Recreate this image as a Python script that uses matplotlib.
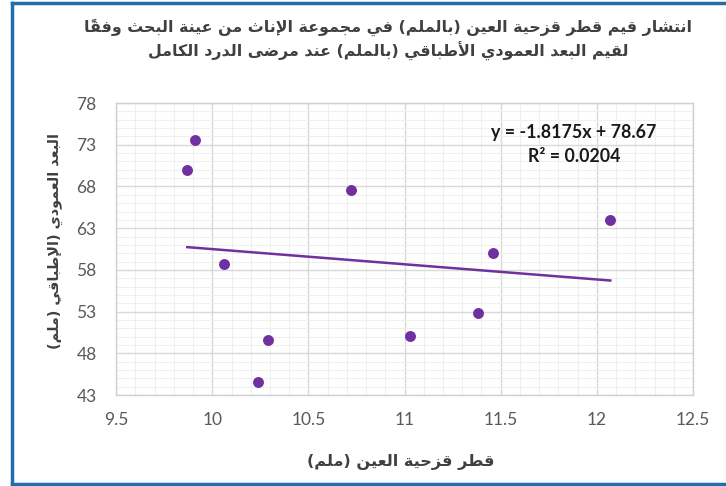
import matplotlib
matplotlib.use("Agg")
import matplotlib.pyplot as plt
from matplotlib.lines import Line2D
from matplotlib.ticker import MultipleLocator
import numpy as np

# ---------------- data ----------------
iris_diameter = [9.91, 9.87, 10.72, 10.06, 10.29, 10.24, 11.03, 11.38, 11.46, 12.07]
vertical_dim = [73.6, 70.0, 67.6, 58.7, 49.6, 44.6, 50.1, 52.8, 60.0, 64.0]
trend_slope = -1.8175
trend_intercept = 78.67
r_squared = 0.0204
x_ticks = [9.5, 10, 10.5, 11, 11.5, 12, 12.5]
x_tick_labels = ["9.5", "10", "10.5", "11", "11.5", "12", "12.5"]
y_ticks = [43, 48, 53, 58, 63, 68, 73, 78]

title_lines = ["انتشار قيم قطر قزحية العين (بالملم) في مجموعة الإناث من عينة البحث وفقاً",
               "لقيم البعد العمودي الأطباقي (بالملم) عند مرضى الدرد الكامل"]
x_title = "قطر قزحية العين (ملم)"
y_title = "البعد العمودي (الإطباقي (ملم)"

# ---------------- minimal Arabic shaping (presentation forms + RTL) ----------------
FOUR = {'ب': 0xFE8F, 'ت': 0xFE95, 'ث': 0xFE99, 'ج': 0xFE9D, 'ح': 0xFEA1, 'خ': 0xFEA5,
        'س': 0xFEB1, 'ش': 0xFEB5, 'ص': 0xFEB9, 'ض': 0xFEBD, 'ط': 0xFEC1, 'ظ': 0xFEC5,
        'ع': 0xFEC9, 'غ': 0xFECD, 'ف': 0xFED1, 'ق': 0xFED5, 'ك': 0xFED9, 'ل': 0xFEDD,
        'م': 0xFEE1, 'ن': 0xFEE5, 'ه': 0xFEE9, 'ي': 0xFEF1, 'ئ': 0xFE89}
TWO = {'ا': 0xFE8D, 'أ': 0xFE83, 'إ': 0xFE87, 'آ': 0xFE81, 'ة': 0xFE93, 'د': 0xFEA9,
       'ذ': 0xFEAB, 'ر': 0xFEAD, 'ز': 0xFEAF, 'و': 0xFEED, 'ى': 0xFEEF, 'ؤ': 0xFE85}
LAMALEF = {'آ': 0xFEF5, 'أ': 0xFEF7, 'إ': 0xFEF9, 'ا': 0xFEFB}
MARKS = set('\u064B\u064C\u064D\u064E\u064F\u0650\u0651\u0652')
MIRROR = {'(': ')', ')': '('}


def shape(text):
    items = []  # [kind, char, marks]
    i = 0
    while i < len(text):
        c = text[i]
        if c in MARKS and items:
            items[-1][2] += c
            i += 1
            continue
        if c == 'ل' and i + 1 < len(text) and text[i + 1] in LAMALEF:
            items.append(['LA', text[i + 1], ''])
            i += 2
            continue
        if c in FOUR:
            items.append(['D', c, ''])
        elif c in TWO:
            items.append(['R', c, ''])
        else:
            items.append(['N', c, ''])
        i += 1
    out = []
    for k, (kind, c, m) in enumerate(items):
        prev_joins = k > 0 and items[k - 1][0] == 'D'
        if kind == 'N':
            out.append(MIRROR.get(c, c) + m)
            continue
        next_arabic = k + 1 < len(items) and items[k + 1][0] != 'N'
        if kind == 'LA':
            g = chr(LAMALEF[c] + (1 if prev_joins else 0))
        elif kind == 'R':
            g = chr(TWO[c] + (1 if prev_joins else 0))
        else:
            base = FOUR[c]
            if prev_joins and next_arabic:
                g = chr(base + 3)
            elif prev_joins:
                g = chr(base + 1)
            elif next_arabic:
                g = chr(base + 2)
            else:
                g = chr(base)
        out.append(g + m)
    return ''.join(reversed(out))


# ---------------- figure ----------------
AR_FONT = ['DejaVu Sans']
NUM_FONT = ['Lato', 'DejaVu Sans']
GREY = '#595959'
PURPLE = '#7030A0'

fig = plt.figure(figsize=(7.26, 4.86), dpi=100)
ax = fig.add_axes([0.160, 0.187, 0.7945, 0.601])

ax.set_xlim(9.5, 12.5)
ax.set_ylim(43, 78)
ax.xaxis.set_major_locator(MultipleLocator(0.5))
ax.xaxis.set_minor_locator(MultipleLocator(0.1))
ax.yaxis.set_major_locator(MultipleLocator(5))
ax.yaxis.set_minor_locator(MultipleLocator(1))
ax.set_xticks(x_ticks)
ax.set_xticklabels(x_tick_labels)
ax.set_yticks(y_ticks)
ax.grid(which='major', color='#d9d9d9', linewidth=1.0)
ax.grid(which='minor', color='#efefef', linewidth=0.8)
ax.set_axisbelow(True)
ax.tick_params(which='both', length=0)
ax.tick_params(axis='x', pad=12, labelsize=12.5, labelcolor=GREY)
ax.tick_params(axis='y', pad=14, labelsize=12.5, labelcolor=GREY)
for lab in ax.get_xticklabels() + ax.get_yticklabels():
    lab.set_fontfamily(NUM_FONT)
for s in ax.spines.values():
    s.set_color('#d0d0d0')
    s.set_linewidth(1.0)

ax.scatter(iris_diameter, vertical_dim, s=62, color=PURPLE, zorder=3, linewidths=0)

xt = np.array([min(iris_diameter), max(iris_diameter)])
ax.plot(xt, trend_slope * xt + trend_intercept, color=PURPLE, linewidth=1.8, zorder=2)

ax.text(11.88, 74.5, f"y = {trend_slope}x + {trend_intercept}", ha='center', va='center',
        fontsize=12.8, fontweight='bold', color='#1a1a1a', family=NUM_FONT)
ax.text(11.88, 71.6, f"R² = {r_squared}", ha='center', va='center',
        fontsize=12.8, fontweight='bold', color='#1a1a1a', family=NUM_FONT)

fig.text(0.535, 0.943, shape(title_lines[0]), ha='center', va='center', fontsize=11.4,
         color='#404040', family=AR_FONT, fontweight='bold')
fig.text(0.535, 0.895, shape(title_lines[1]), ha='center', va='center', fontsize=11.4,
         color='#404040', family=AR_FONT, fontweight='bold')
fig.text(0.552, 0.05, shape(x_title), ha='center', va='center', fontsize=11.6,
         color='#404040', family=AR_FONT, fontweight='bold')
fig.text(0.076, 0.505, shape(y_title), ha='center', va='center', fontsize=10.4,
         color='#404040', family=AR_FONT, fontweight='bold', rotation=90)

# blue selection frame
fig.add_artist(Line2D([0.017, 0.017], [0.0, 0.993], transform=fig.transFigure, color='#1f6eb0', linewidth=2.5))
fig.add_artist(Line2D([0.017, 1.0], [0.993, 0.993], transform=fig.transFigure, color='#1f6eb0', linewidth=2.5))
fig.add_artist(Line2D([0.017, 1.0], [0.004, 0.004], transform=fig.transFigure, color='#1f6eb0', linewidth=2.5))

fig.savefig('out.png', dpi=100, facecolor='white')
